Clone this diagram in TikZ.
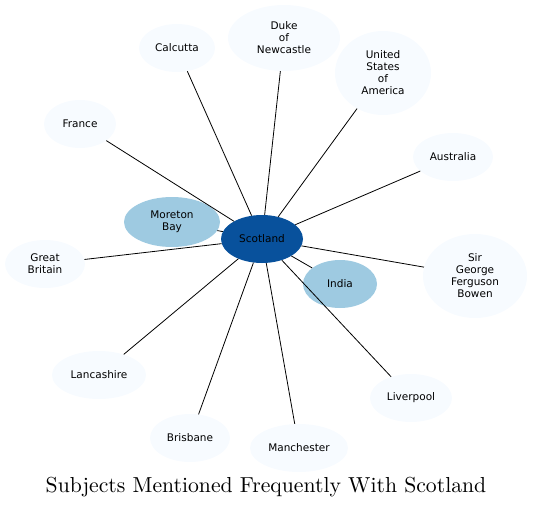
\documentclass[tikz,border=0pt]{standalone}
\usepackage{fontspec}
\newfontfamily\nodefont{DejaVu Sans}
\usetikzlibrary{shapes.geometric}
\definecolor{light}{HTML}{F7FBFF}
\definecolor{mid}{HTML}{9ECAE1}
\definecolor{dark}{HTML}{08519C}
\tikzset{
  ell/.style={ellipse, inner sep=0pt, align=center, font=\nodefont\fontsize{10.5}{12}\selectfont},
  lt/.style={ell, fill=light},
  md/.style={ell, fill=mid},
  dk/.style={ell, fill=dark},
  edge/.style={draw=black, line width=0.8pt}
}
\begin{document}
\begin{tikzpicture}[x=1pt,y=-1pt]
\useasboundingbox (0,0) rectangle (533,509);
\node[dk, minimum width=82, minimum height=48] (sc) at (262,239) {Scotland};
\node[md, minimum width=96, minimum height=50] (mb) at (172,222) {Moreton\\Bay};
\node[md, minimum width=74, minimum height=48] (in) at (340,284) {India};
\node[lt, minimum width=76, minimum height=48] (ca) at (177,48) {Calcutta};
\node[lt, minimum width=112, minimum height=66] (du) at (284,38) {Duke\\of\\Newcastle};
\node[lt, minimum width=96, minimum height=84] (us) at (383,73) {United\\States\\of\\America};
\node[lt, minimum width=72, minimum height=48] (fr) at (80,124) {France};
\node[lt, minimum width=80, minimum height=48] (au) at (453,157) {Australia};
\node[lt, minimum width=80, minimum height=48] (gb) at (45,264) {Great\\Britain};
\node[lt, minimum width=104, minimum height=84] (sg) at (475,276) {Sir\\George\\Ferguson\\Bowen};
\node[lt, minimum width=94, minimum height=48] (la) at (99,375) {Lancashire};
\node[lt, minimum width=82, minimum height=48] (li) at (411,398) {Liverpool};
\node[lt, minimum width=80, minimum height=48] (br) at (190,438) {Brisbane};
\node[lt, minimum width=98, minimum height=48] (ma) at (299,448) {Manchester};
\node[inner sep=0pt] (title) at (266,487) {\scalebox{2.17}{\fontsize{10}{12}\selectfont Subjects Mentioned Frequently With Scotland}};
\foreach \t in {mb,in,ca,du,us,fr,au,gb,sg,la,li,br,ma}
  \draw[edge] (sc) -- (\t);
\end{tikzpicture}
\end{document}
